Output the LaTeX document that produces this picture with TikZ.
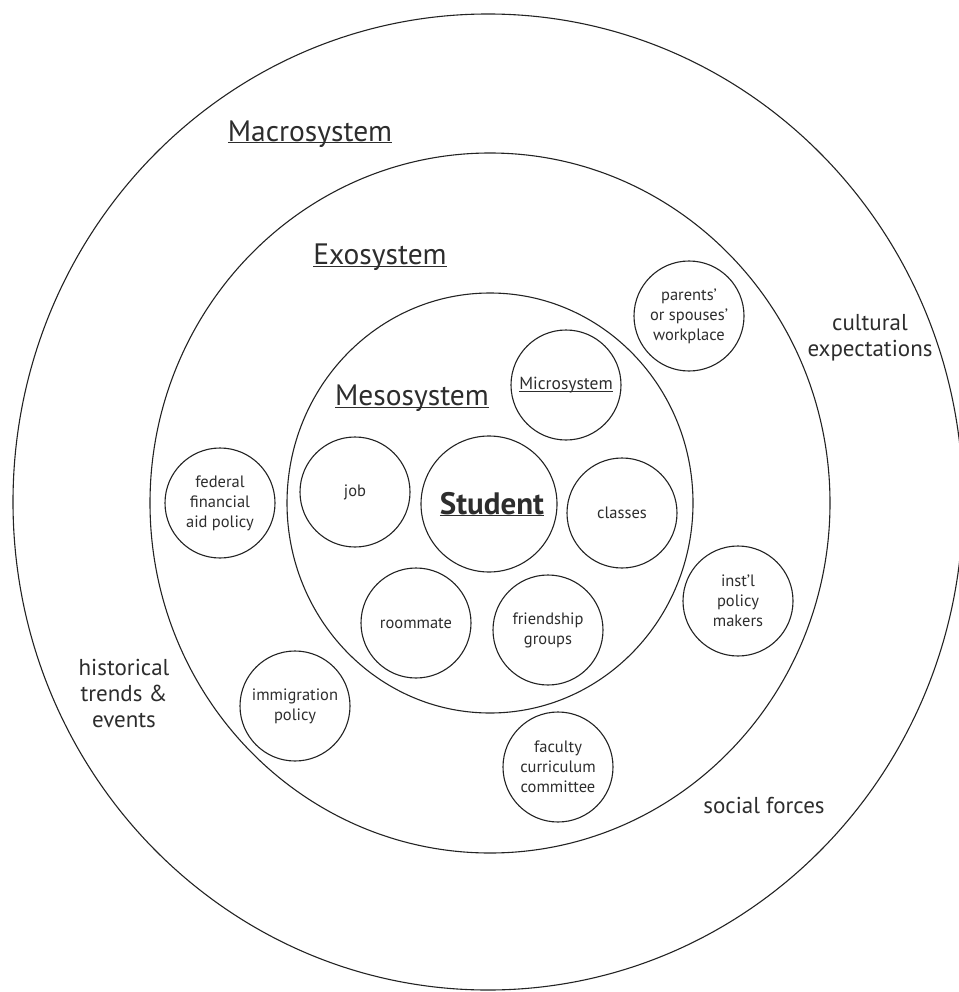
\documentclass[tikz,border=0pt]{standalone}
\usepackage{fontspec}
\setmainfont{PT Sans}
\usetikzlibrary{positioning}
\usetikzlibrary{shapes.geometric}
\definecolor{RingGray}{RGB}{35,35,35}
\definecolor{TextGray}{RGB}{45,45,45}
\newcommand{\sysul}[1]{\underline{\smash{#1}}\vphantom{#1}}
\tikzset{
	ring/.style={ellipse, draw=RingGray, line width=1.1pt, inner sep=0pt},
	sys/.style={circle, draw=RingGray, line width=1.1pt, minimum size=110pt,
		inner sep=0pt, align=center, text=TextGray,
		font=\fontsize{16.5}{20}\selectfont},
	lab/.style={align=center, text=TextGray, font=\fontsize{23}{26}\selectfont},
	sysname/.style={text=TextGray, inner sep=0pt, font=\fontsize{29.5}{32}\selectfont}
}

\begin{document}
\begin{tikzpicture}[x=1pt, y=1pt]
		\useasboundingbox (0,0) rectangle (958,-992);
		\node[ring, minimum width=950pt, minimum height=976pt] (macro) at (488,-502) {};
		\node[ring, minimum width=680pt, minimum height=700pt] (exo) at (490,-503) {};
		\node[ring, minimum width=406pt, minimum height=420pt] (meso) at (490,-503) {};
		\node[sysname] (macroname) at (310,-134) {\sysul{Macrosystem}};
		\node[sysname] (exoname) at (380,-257) {\sysul{Exosystem}};
		\node[sysname] (mesoname) at (412,-398) {\sysul{Mesosystem}};
		\node[sys] (micro) at (566,-385) {\fontsize{17.5}{20}\selectfont\sysul{Microsystem}};
		\node[sys, minimum size=136pt] (student) at (489,-504)
		{\hspace*{6pt}\fontsize{31}{34}\selectfont\bfseries\sysul{Student}};
		\node[sys] (job) at (355,-492) {job};
		\node[sys] (classes) at (622,-513) {classes};
		\node[sys] (roommate) at (416,-623) {roommate};
		\node[sys] (friends) at (548,-630) {friendship\\groups};
		\node[sys] (federal) at (220,-503) {federal\\financial\\aid policy};
		\node[sys] (immig) at (295,-706) {immigration\\policy};
		\node[sys] (parents) at (689,-316) {parents’\\or spouses’\\workplace};
		\node[sys] (instl) at (738,-601) {inst’l\\policy\\makers};
		\node[sys] (faculty) at (558,-767) {faculty\\curriculum\\committee};
		\node[lab] (cultural) at (870,-338) {cultural\\expectations};
		\node[lab] (history) at (124,-693) {historical\\trends \&\\events};
		\node[lab] (social) at (764,-805) {social forces};
	\end{tikzpicture}
\end{document}
